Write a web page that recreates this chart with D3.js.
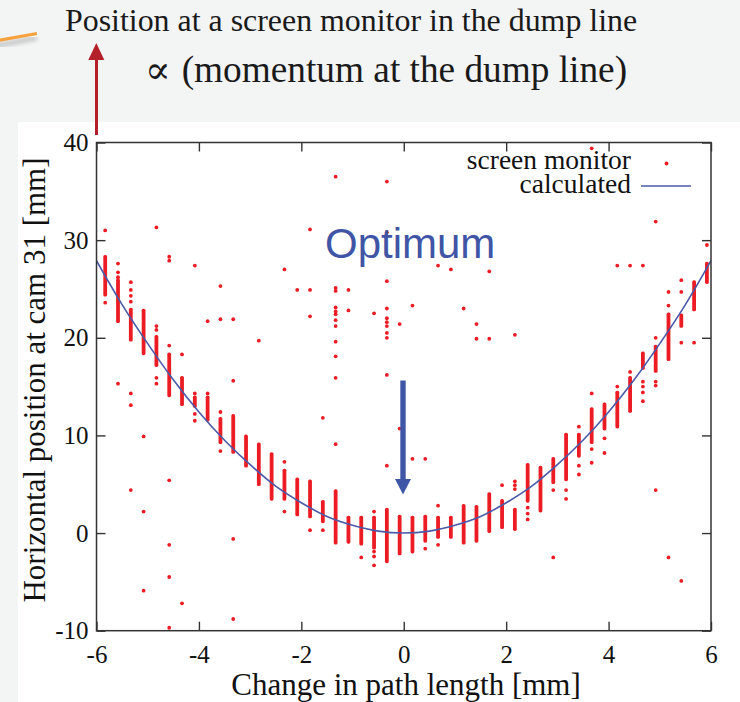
<!DOCTYPE html>
<html><head><meta charset="utf-8">
<script src="https://cdn.jsdelivr.net/npm/d3@7"></script>
<style>body{margin:0;background:#f3f4f4;overflow:hidden} svg{display:block}</style>
</head><body><svg id="c" width="740" height="702"></svg>
<script>
// ---- data ----
const columnX = [-5.83,-5.58,-5.33,-5.08,-4.83,-4.58,-4.33,-4.08,-3.83,-3.58,-3.33,-3.08,
  -2.83,-2.58,-2.33,-2.08,-1.83,-1.58,-1.33,-1.08,-0.83,-0.58,-0.33,-0.08,
  0.17,0.42,0.67,0.92,1.17,1.42,1.67,1.92,2.17,2.42,2.67,2.92,3.17,3.42,3.67,3.92,
  4.17,4.42,4.67,4.92,5.17,5.42,5.67,5.92];
// dense cluster of screen-monitor readings in each column (low / high end)
const bandLow  = [24.4,21.7,19.8,18.4,17.2,14.1,13.2,13.0,11.6,9.3,8.3,6.9,
  5.0,3.5,3.5,1.9,1.7,1.2,-1.0,-0.9,-1.1,-1.5,-2.9,-2.1,
  -1.9,-0.8,-0.4,-0.4,-1.0,-0.8,0.2,0.6,0.4,3.3,2.3,5.2,5.5,7.9,9.3,10.7,
  10.9,12.5,16.9,16.6,17.8,21.2,22.9,25.7];
const bandHigh = [28.3,25.9,22.9,22.8,20.1,18.3,15.9,13.9,13.9,11.7,12.0,9.9,
  9.1,8.1,6.4,5.5,5.3,3.2,4.3,1.6,1.6,1.6,2.4,1.7,
  1.6,1.7,1.6,1.6,2.8,2.7,4.0,3.3,2.4,7.0,6.7,7.6,10.1,10.1,12.7,13.2,
  14.4,15.9,18.4,19.1,22.4,22.3,25.7,27.6];
// individual screen-monitor readings away from the clusters, per column
const singleReadings = [
  [31.0,23.6],[27.6,26.7,26.2,15.3],[25.7,24.9,24.3,23.7,14.3,13.1,4.4],[9.9,2.2,-5.9],
  [31.3,21.2,20.8,15.9,15.3],[28.3,27.9,19.2,5.4,-1.2,-4.5,-9.7],[18.3,-7.2],[27.4,14.3,12.2,11.5],
  [21.7,14.3],[25.3,21.9,12.4,8.4],[21.9,15.6,-0.6,-8.8],[],
  [19.7],[],[27.0,7.3,2.2],[24.9],
  [31.1,24.9,22.2,0.3],[11.8,0.3],[36.5,25.1,24.8,23.1,22.7,22.4,21.8,21.2,19.6,18.1,15.9,9.1],[24.9,22.8],
  [-2.5],[22.5,2.2,-1.9,-2.4,-3.3],[36.0,30.8,25.8,23.0,22.0,21.6,21.2,20.5,20.0,16.2,6.9],[21.4,10.7],
  [23.3,7.6],[7.6,-1.6],[27.4,2.8,-1.2],[27.0],
  [23.0],[21.4,19.9],[26.8,19.9],[4.9],
  [20.3,5.3,4.9,4.5],[2.6,2.0,1.4],[],[4.4,-2.5],
  [4.4,3.5],[10.9,6.9,6.0],[39.4,14.3,8.6,7.2],[9.7,8.2],
  [27.4,15.0],[27.4,16.5],[27.4,15.5,15.0,14.4,13.5],[31.9,20.0,15.5,15.1,4.4],
  [24.7,23.3,-2.5],[25.9,24.7,19.5,-4.9],[19.5],[29.5]
];
// calculated curve
const curveX = [-6,-5.5,-5,-4.5,-4,-3.5,-3,-2.5,-2,-1.5,-1,-0.5,0,0.5,1,1.5,2,2.5,3,3.5,4,4.5,5,5.5,6];
const curveY = [27.9,23.4,19.4,15.7,12.4,9.5,7.0,4.8,3.1,1.7,0.8,0.2,0,0.2,0.8,1.7,3.1,4.8,7.0,9.5,12.4,15.7,19.4,23.4,27.9];
const xTicks = [-6,-4,-2,0,2,4,6];
const yTicks = [-10,0,10,20,30,40];
const xTitle = "Change in path length [mm]";
const yTitle = "Horizontal position at cam 31 [mm]";
const legendLabels = ["screen monitor","calculated"];

// ---- drawing ----
const svg = d3.select("#c");
const serif = "'Liberation Serif','Times New Roman',serif";
const RED = "#ec1c24", BLUE = "#4a5aa8";

svg.append("rect").attr("width",740).attr("height",702).attr("fill","#f3f4f4");
svg.append("rect").attr("x",18).attr("y",122).attr("width",722).attr("height",580).attr("fill","#ffffff");

// decorative orange stroke with shadow
const defs = svg.append("defs");
defs.append("filter").attr("id","blur").append("feGaussianBlur").attr("stdDeviation",2);
svg.append("line").attr("x1",-5).attr("y1",46).attr("x2",37).attr("y2",38)
  .attr("stroke","#9a9a9a").attr("stroke-width",4).attr("opacity",0.6).attr("filter","url(#blur)");
svg.append("line").attr("x1",-5).attr("y1",41).attr("x2",37).attr("y2",33.5)
  .attr("stroke","#f7a23c").attr("stroke-width",3.2);

// header text
svg.append("text").attr("x",65).attr("y",30.5).attr("font-family",serif).attr("font-size",31.9)
  .attr("fill","#1a1a1a").text("Position at a screen monitor in the dump line");
svg.append("text").attr("x",145).attr("y",83).attr("font-family","'DejaVu Serif',serif").attr("font-size",38)
  .attr("font-weight",300).attr("fill","#1a1a1a").text("\u221D");
svg.append("text").attr("x",181.7).attr("y",82).attr("font-family",serif).attr("font-size",37.3)
  .attr("fill","#1a1a1a").text("(momentum at the dump line)");

// red arrow
svg.append("line").attr("x1",96.5).attr("y1",135).attr("x2",96.5).attr("y2",58)
  .attr("stroke","#b3202a").attr("stroke-width",3);
svg.append("path").attr("d","M88.3,60 L104.3,60 L96.3,43 Z").attr("fill","#b3202a");

const x = d3.scaleLinear().domain([-6,6]).range([96.5,711]);
const y = d3.scaleLinear().domain([-10,40]).range([630.7,142.5]);

defs.append("clipPath").attr("id","plot").append("rect")
  .attr("x",96.5).attr("y",142.5).attr("width",711-96.5).attr("height",630.7-142.5);

const g = svg.append("g").attr("clip-path","url(#plot)");
// clusters
g.selectAll("rect.band").data(columnX).join("rect").attr("class","band")
  .attr("x",(d)=>x(d)-1.9).attr("width",3.8)
  .attr("y",(d,i)=>y(bandHigh[i])-1.8)
  .attr("height",(d,i)=>y(bandLow[i])-y(bandHigh[i])+3.6)
  .attr("rx",1.6).attr("fill",RED);
// single readings
const pts = [];
columnX.forEach((cx,i)=>singleReadings[i].forEach(v=>pts.push([cx,v])));
g.selectAll("circle.pt").data(pts).join("circle").attr("class","pt")
  .attr("cx",d=>x(d[0])).attr("cy",d=>y(d[1])).attr("r",1.9).attr("fill",RED);
// curve
const line = d3.line().x(d=>x(d[0])).y(d=>y(d[1])).curve(d3.curveCatmullRom);
g.append("path").datum(curveX.map((v,i)=>[v,curveY[i]])).attr("d",line)
  .attr("fill","none").attr("stroke",BLUE).attr("stroke-width",1.6);

// axes (inward ticks, mirrored)
const tickStyle = sel => { sel.select(".domain").remove();
  sel.selectAll(".tick line").attr("stroke","#333").attr("stroke-width",1.4);
  sel.selectAll("text").attr("font-family",serif).attr("font-size",25).attr("fill","#111"); };
svg.append("g").attr("transform",`translate(0,${y(-10)})`)
  .call(d3.axisBottom(x).tickValues(xTicks).tickSize(-9).tickPadding(15).tickFormat(d3.format("d"))).call(tickStyle);
svg.append("g").attr("transform",`translate(0,${y(40)})`)
  .call(d3.axisTop(x).tickValues(xTicks).tickSize(-9).tickFormat("")).call(tickStyle);
svg.append("g").attr("transform",`translate(${x(-6)},0)`)
  .call(d3.axisLeft(y).tickValues(yTicks).tickSize(-9).tickPadding(8).tickFormat(d3.format("d"))).call(tickStyle);
svg.append("g").attr("transform",`translate(${x(6)},0)`)
  .call(d3.axisRight(y).tickValues(yTicks).tickSize(-9).tickFormat("")).call(tickStyle);
svg.selectAll(".tick text").text(function(){return this.textContent.replace("\u2212","-");});
// frame
svg.append("rect").attr("x",x(-6)).attr("y",y(40)).attr("width",x(6)-x(-6)).attr("height",y(-10)-y(40))
  .attr("fill","none").attr("stroke","#333").attr("stroke-width",1.5);

// axis titles
svg.append("text").attr("x",406).attr("y",695).attr("text-anchor","middle")
  .attr("font-family",serif).attr("font-size",31).attr("fill","#111").text(xTitle);
svg.append("text").attr("transform","translate(45,380) rotate(-90)").attr("text-anchor","middle")
  .attr("font-family",serif).attr("font-size",31).attr("fill","#111").text(yTitle);

// legend
svg.append("text").attr("x",631).attr("y",169).attr("text-anchor","end")
  .attr("font-family",serif).attr("font-size",27.5).attr("fill","#111").text(legendLabels[0]);
svg.append("text").attr("x",631).attr("y",193).attr("text-anchor","end")
  .attr("font-family",serif).attr("font-size",27.5).attr("fill","#111").text(legendLabels[1]);
svg.append("circle").attr("cx",666.5).attr("cy",163.5).attr("r",1.9).attr("fill",RED);
svg.append("line").attr("x1",641).attr("x2",691).attr("y1",186).attr("y2",186).attr("stroke",BLUE).attr("stroke-width",1.6);

// annotation
svg.append("text").attr("x",325).attr("y",258).attr("font-family","'Liberation Sans',Arial,sans-serif")
  .attr("font-size",42).attr("fill","#4055a6").text("Optimum");
svg.append("rect").attr("x",400.3).attr("y",380.5).attr("width",5.4).attr("height",100).attr("fill","#3f56a6");
svg.append("path").attr("d","M395,479 L411,479 L403,494.5 Z").attr("fill","#3f56a6");
</script></body></html>
